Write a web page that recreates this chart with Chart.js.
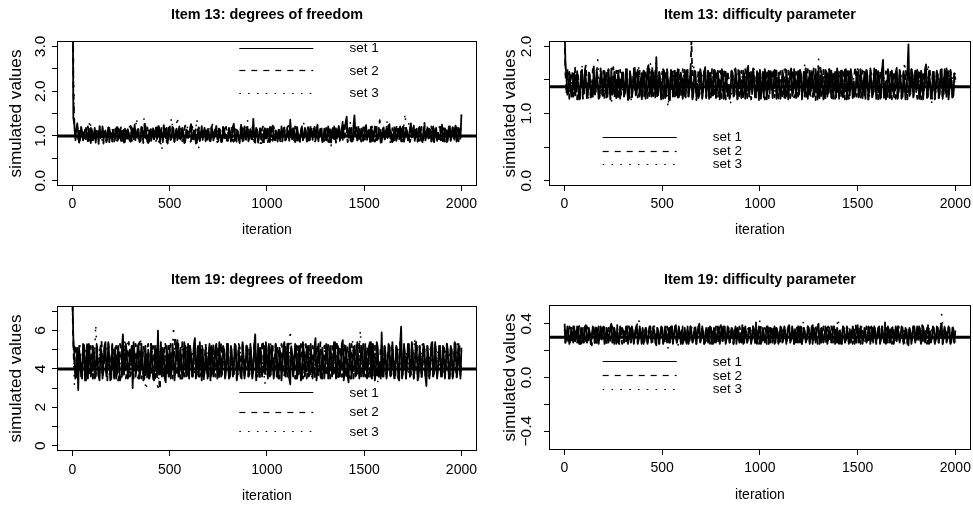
<!DOCTYPE html>
<html>
<head>
<meta charset="utf-8">
<script src="https://cdn.jsdelivr.net/npm/chart.js@4.4.1/dist/chart.umd.min.js"></script>
<style>
html,body{margin:0;padding:0;background:#fff;overflow:hidden;width:973px;height:506px;position:relative;}
canvas{position:absolute;display:block;}
</style>
</head>
<body>
<canvas id="c1"></canvas>
<canvas id="c2"></canvas>
<canvas id="c3"></canvas>
<canvas id="c4"></canvas>
<script>
// ---------------- DATA ----------------
const panelTitles = ['Item 13: degrees of freedom', 'Item 13: difficulty parameter',
                     'Item 19: degrees of freedom', 'Item 19: difficulty parameter'];
const seriesNames = ['set 1', 'set 2', 'set 3'];
const xAxisTitle = 'iteration';
const yAxisTitle = 'simulated values';

const xTicks = [0, 500, 1000, 1500, 2000];
const xTickLabels = ['0', '500', '1000', '1500', '2000'];

const item13DfTicks = [0, 0.5, 1, 1.5, 2, 2.5, 3];
const item13DfTickLabels = ['0.0', '', '1.0', '', '2.0', '', '3.0'];
const item13DiffTicks = [0, 0.5, 1, 1.5, 2];
const item13DiffTickLabels = ['0.0', '', '1.0', '', '2.0'];
const item19DfTicks = [0, 1, 2, 3, 4, 5, 6, 7];
const item19DfTickLabels = ['0', '', '2', '', '4', '', '6', ''];
const item19DiffTicks = [-0.4, -0.2, 0, 0.2, 0.4];
const item19DiffTickLabels = ['\u22120.4', '', '0.0', '', '0.4'];

const trueValues = [1.0, 1.4, 4.0, 0.3];

// iterations sampled every 5 (sets 1 and 2)
const iterationsBy5 = [
1,5,10,15,20,25,30,35,40,45,50,55,60,65,70,75,80,85,90,95,
100,105,110,115,120,125,130,135,140,145,150,155,160,165,170,175,180,185,190,195,
200,205,210,215,220,225,230,235,240,245,250,255,260,265,270,275,280,285,290,295,
300,305,310,315,320,325,330,335,340,345,350,355,360,365,370,375,380,385,390,395,
400,405,410,415,420,425,430,435,440,445,450,455,460,465,470,475,480,485,490,495,
500,505,510,515,520,525,530,535,540,545,550,555,560,565,570,575,580,585,590,595,
600,605,610,615,620,625,630,635,640,645,650,655,660,665,670,675,680,685,690,695,
700,705,710,715,720,725,730,735,740,745,750,755,760,765,770,775,780,785,790,795,
800,805,810,815,820,825,830,835,840,845,850,855,860,865,870,875,880,885,890,895,
900,905,910,915,920,925,930,935,940,945,950,955,960,965,970,975,980,985,990,995,
1000,1005,1010,1015,1020,1025,1030,1035,1040,1045,1050,1055,1060,1065,1070,1075,1080,1085,1090,1095,
1100,1105,1110,1115,1120,1125,1130,1135,1140,1145,1150,1155,1160,1165,1170,1175,1180,1185,1190,1195,
1200,1205,1210,1215,1220,1225,1230,1235,1240,1245,1250,1255,1260,1265,1270,1275,1280,1285,1290,1295,
1300,1305,1310,1315,1320,1325,1330,1335,1340,1345,1350,1355,1360,1365,1370,1375,1380,1385,1390,1395,
1400,1405,1410,1415,1420,1425,1430,1435,1440,1445,1450,1455,1460,1465,1470,1475,1480,1485,1490,1495,
1500,1505,1510,1515,1520,1525,1530,1535,1540,1545,1550,1555,1560,1565,1570,1575,1580,1585,1590,1595,
1600,1605,1610,1615,1620,1625,1630,1635,1640,1645,1650,1655,1660,1665,1670,1675,1680,1685,1690,1695,
1700,1705,1710,1715,1720,1725,1730,1735,1740,1745,1750,1755,1760,1765,1770,1775,1780,1785,1790,1795,
1800,1805,1810,1815,1820,1825,1830,1835,1840,1845,1850,1855,1860,1865,1870,1875,1880,1885,1890,1895,
1900,1905,1910,1915,1920,1925,1930,1935,1940,1945,1950,1955,1960,1965,1970,1975,1980,1985,1990,1995,
2000];

// iterations sampled every 10 (set 3)
const iterationsBy10 = [
1,10,20,30,40,50,60,70,80,90,100,110,120,130,140,150,160,170,180,190,
200,210,220,230,240,250,260,270,280,290,300,310,320,330,340,350,360,370,380,390,
400,410,420,430,440,450,460,470,480,490,500,510,520,530,540,550,560,570,580,590,
600,610,620,630,640,650,660,670,680,690,700,710,720,730,740,750,760,770,780,790,
800,810,820,830,840,850,860,870,880,890,900,910,920,930,940,950,960,970,980,990,
1000,1010,1020,1030,1040,1050,1060,1070,1080,1090,1100,1110,1120,1130,1140,1150,1160,1170,1180,1190,
1200,1210,1220,1230,1240,1250,1260,1270,1280,1290,1300,1310,1320,1330,1340,1350,1360,1370,1380,1390,
1400,1410,1420,1430,1440,1450,1460,1470,1480,1490,1500,1510,1520,1530,1540,1550,1560,1570,1580,1590,
1600,1610,1620,1630,1640,1650,1660,1670,1680,1690,1700,1710,1720,1730,1740,1750,1760,1770,1780,1790,
1800,1810,1820,1830,1840,1850,1860,1870,1880,1890,1900,1910,1920,1930,1940,1950,1960,1970,1980,1990,
2000];

const item13DfSet1 = [
4.80,1.40,1.25,0.95,1.12,1.28,1.05,0.86,0.92,1.20,1.10,0.90,0.98,1.14,1.18,0.96,0.88,1.16,1.02,0.84,
1.15,0.90,0.95,1.18,0.85,1.10,1.08,0.82,1.22,0.99,0.97,1.21,0.90,1.06,1.12,0.88,1.00,1.19,0.86,1.09,
1.05,0.87,1.14,0.98,0.93,1.17,1.20,0.91,0.99,1.13,0.89,1.12,1.08,0.85,1.16,1.01,0.94,1.15,1.03,0.89,
0.87,1.19,1.11,0.92,1.25,1.03,0.96,1.14,1.04,0.86,0.91,1.20,1.17,0.95,0.98,1.23,1.09,0.88,0.84,1.12,
1.13,0.89,1.00,1.17,0.92,1.10,1.19,0.93,1.06,1.21,0.88,1.13,1.02,0.86,1.24,1.04,0.95,1.18,0.83,1.08,
1.10,0.91,0.97,1.20,1.15,0.87,1.01,1.16,0.90,1.09,1.21,0.92,0.94,1.18,1.07,0.84,0.86,1.14,1.12,0.95,
0.99,1.17,1.26,0.94,0.93,1.12,1.05,0.83,0.85,1.07,1.14,0.89,1.02,1.22,0.91,1.10,1.18,0.88,0.96,1.15,
1.08,0.92,0.88,1.19,1.13,0.90,1.00,1.11,1.22,0.93,0.94,1.16,1.06,0.86,0.87,1.20,1.16,0.95,1.03,0.89,
0.92,1.18,1.11,0.87,0.98,1.21,1.27,0.90,0.95,1.14,1.09,0.93,0.84,1.12,1.15,0.88,1.01,1.19,0.93,1.10,
1.20,0.88,0.97,1.15,1.07,0.92,1.38,1.02,0.89,1.18,1.12,0.85,0.99,1.16,1.04,0.91,0.86,1.13,1.17,0.94,
0.95,1.16,1.10,0.86,1.02,1.18,1.23,0.93,0.91,1.12,1.06,0.87,1.14,0.95,0.88,1.21,1.00,1.09,1.19,0.90,
0.94,1.14,1.08,0.89,1.36,1.02,0.92,1.17,1.13,0.86,0.98,1.20,1.05,0.90,0.87,1.12,1.21,0.93,0.96,1.18,
1.11,0.88,1.02,1.19,0.90,1.13,1.16,0.91,1.07,1.20,0.93,1.10,1.25,0.92,0.99,1.15,1.04,0.86,0.89,1.16,
1.12,0.90,0.97,1.21,1.08,0.88,0.85,1.14,1.18,0.93,1.01,1.17,0.94,1.13,1.22,0.89,1.06,1.19,0.91,1.24,
1.15,1.30,1.43,0.99,0.96,1.18,1.09,0.87,0.88,1.22,1.46,1.06,1.03,0.90,1.20,0.95,0.92,1.16,1.10,0.89,
0.98,1.19,1.24,0.91,1.05,1.14,0.87,1.20,1.13,0.88,1.00,1.21,1.17,0.90,0.93,1.18,1.07,0.85,0.86,1.15,
1.19,0.92,1.02,1.17,0.95,1.22,1.26,0.94,1.08,0.86,0.90,1.19,1.14,0.89,0.97,1.16,1.04,1.21,0.88,1.12,
1.21,0.87,1.00,1.18,1.11,0.90,0.93,1.15,1.28,0.96,1.06,1.23,0.89,1.13,1.16,0.88,0.98,1.20,1.09,0.91,
0.86,1.14,1.22,0.90,1.03,1.19,0.94,1.16,1.13,0.87,1.01,1.21,0.88,1.12,1.18,0.89,1.07,0.93,0.92,1.20,
1.25,0.88,0.99,1.17,1.10,0.86,0.90,1.21,1.15,0.92,1.04,1.19,0.95,1.14,1.23,0.87,0.91,1.18,1.12,0.94,
1.48];
const item13DfSet2 = [
6.50,2.10,1.32,0.88,1.05,1.20,0.96,0.85,1.18,1.02,0.90,1.16,1.07,0.87,0.94,1.14,1.21,0.89,0.99,1.18,
0.87,1.15,1.13,0.90,1.02,1.19,0.92,1.12,1.16,0.88,1.04,1.20,0.83,1.09,1.10,0.86,0.97,1.16,1.24,0.92,
0.93,1.18,1.06,0.87,1.15,0.91,0.89,1.17,1.01,1.13,1.19,0.88,0.95,1.20,0.86,1.10,1.12,0.90,1.03,1.21,
1.22,0.89,0.91,1.16,1.08,0.86,0.98,1.20,1.14,0.92,0.88,1.17,1.05,0.84,1.26,0.96,0.94,1.19,1.09,0.87,
0.96,1.21,1.17,0.89,0.90,1.14,1.02,1.18,1.11,0.87,0.85,1.13,1.20,0.90,0.99,1.22,1.07,0.86,0.93,1.16,
1.28,0.91,0.95,1.19,1.04,0.86,0.87,1.15,1.16,0.89,1.00,1.20,1.12,0.88,0.92,1.14,1.23,0.90,0.97,1.18,
1.06,0.85,0.89,1.21,1.14,0.90,1.01,1.17,0.94,1.13,1.19,0.87,0.86,1.16,1.10,0.92,1.03,1.20,0.96,0.88,
1.15,0.87,0.91,1.18,1.25,0.93,0.98,1.22,1.07,0.86,0.88,1.15,1.13,0.89,1.02,1.19,0.95,1.14,1.20,0.91,
1.09,0.88,0.93,1.20,1.17,0.89,0.87,1.16,1.04,0.85,1.11,0.92,0.97,1.18,1.30,0.94,0.90,1.21,1.06,0.87,
1.01,1.16,1.18,0.89,0.94,1.19,1.08,0.87,0.85,1.13,1.14,0.90,1.03,1.17,0.92,1.15,1.21,0.88,0.99,1.20,
1.10,0.86,0.96,1.18,1.27,0.92,0.89,1.20,1.05,0.87,1.16,0.91,0.93,1.19,1.02,0.85,0.88,1.17,1.12,0.90,
1.00,1.19,1.22,0.88,0.95,1.16,1.09,0.86,0.91,1.21,1.17,0.89,1.04,0.85,0.87,1.18,1.13,0.90,0.98,1.15,
1.06,0.87,1.19,0.90,0.92,1.20,1.01,1.17,1.15,0.86,0.90,1.19,1.08,0.88,0.96,1.16,1.24,0.91,1.03,0.89,
0.94,1.18,1.11,0.87,0.86,1.15,1.20,0.89,0.99,1.21,1.07,0.85,0.93,1.19,1.14,0.88,1.02,1.17,1.31,0.92,
0.97,1.20,1.18,0.86,1.05,1.16,0.89,1.17,1.12,0.88,0.95,1.21,1.23,0.90,1.00,1.15,1.08,0.87,0.91,1.19,
1.16,0.88,0.98,1.19,1.04,0.86,0.87,1.18,1.21,0.89,1.10,0.87,0.94,1.20,1.06,0.90,1.35,1.05,0.92,1.17,
1.13,0.89,1.01,1.20,0.96,1.16,1.19,0.86,0.88,1.17,1.09,0.90,1.03,1.18,1.26,0.91,0.93,1.19,1.15,0.87,
1.00,1.21,0.90,1.18,1.12,0.88,1.05,0.86,0.97,1.19,1.22,0.90,0.89,1.16,1.07,0.87,1.17,0.89,0.94,1.20,
1.04,0.87,1.29,0.92,0.91,1.18,1.11,0.88,0.99,1.21,1.14,0.89,0.86,1.17,1.08,0.85,1.02,1.19,1.20,0.90,
0.95,1.18,1.10,0.87,1.03,1.20,0.92,1.16,1.24,0.89,0.98,1.19,1.13,0.86,0.88,1.21,1.06,0.88,1.01,1.17,
1.05];
const item13DfSet3 = [
3.90,1.28,1.10,0.93,1.15,1.02,0.88,1.20,0.97,1.35,
1.06,0.91,1.12,0.99,1.24,0.86,1.08,1.01,0.94,1.18,
1.03,0.90,1.16,1.07,0.95,1.22,0.89,1.11,1.00,0.92,
1.14,1.04,0.96,1.40,0.87,1.09,1.19,1.42,0.98,1.05,
0.93,1.13,1.01,0.88,1.25,0.97,0.68,1.10,1.06,0.94,
1.17,1.40,0.99,1.08,1.42,0.91,1.15,1.03,0.95,1.21,
1.02,0.89,1.12,0.96,1.38,0.72,1.07,1.14,1.00,0.92,
1.18,1.04,0.88,1.10,0.97,1.23,0.94,1.06,1.01,0.90,
1.13,1.05,0.95,1.19,0.87,1.09,1.02,0.93,1.16,0.99,
1.36,0.92,1.08,1.03,0.89,1.15,1.00,0.74,1.11,0.96,
1.04,1.20,0.91,1.07,1.13,0.98,1.02,0.88,1.17,1.05,
0.94,1.10,0.99,1.24,0.93,1.06,1.01,0.87,1.14,1.28,
0.96,1.09,1.03,0.90,1.18,1.00,0.92,1.12,1.05,0.95,
1.21,0.98,1.08,0.78,1.13,1.02,0.94,1.16,1.01,0.89,
1.10,1.04,0.96,1.33,0.92,1.07,1.15,0.99,1.03,0.88,
1.19,0.97,1.06,1.12,0.93,1.01,1.22,0.90,1.09,1.04,
0.95,1.17,1.36,0.98,1.08,0.91,1.14,1.02,0.96,1.11,
1.05,1.50,0.93,1.30,1.07,0.99,1.16,0.94,1.03,1.10,
0.89,1.20,1.01,0.95,1.13,1.06,0.92,1.18,1.00,0.97,
1.09,0.86,1.15,1.04,0.98,1.12,0.93,1.07,1.02,1.10,
1.04];

const item13DiffSet1 = [
2.30,1.75,1.55,1.28,1.32,1.62,1.48,1.25,1.26,1.58,1.60,1.27,1.38,1.63,1.44,1.21,1.22,1.59,1.65,1.30,
1.35,1.64,1.50,1.23,1.28,1.61,1.58,1.26,1.41,1.25,1.70,1.29,1.33,1.66,1.46,1.22,1.24,1.60,1.62,1.27,
1.39,1.63,1.52,1.24,1.29,1.65,1.45,1.21,1.67,1.28,1.34,1.62,1.56,1.23,1.27,1.64,1.49,1.22,1.40,1.61,
1.61,1.26,1.31,1.66,1.47,1.20,1.23,1.62,1.54,1.24,1.37,1.63,1.68,1.27,1.30,1.65,1.51,1.25,1.43,1.60,
1.25,1.64,1.59,1.22,1.36,1.67,1.72,1.26,1.42,1.63,1.28,1.61,1.55,1.24,1.84,1.29,1.33,1.62,1.48,1.21,
1.38,1.66,1.63,1.23,1.26,1.62,1.50,1.20,1.35,1.65,1.57,1.25,1.29,1.64,1.46,1.27,1.66,1.24,1.32,1.61,
1.53,1.22,1.40,1.65,1.24,1.63,1.60,1.25,1.37,1.67,1.49,1.21,1.30,1.64,1.62,1.26,1.44,1.23,1.27,1.66,
1.56,1.24,1.34,1.62,1.69,1.25,1.41,1.63,1.22,1.61,1.52,1.27,1.36,1.65,1.64,1.23,1.31,1.64,1.47,1.21,
1.39,1.66,1.58,1.22,1.25,1.62,1.50,1.26,1.43,1.23,1.33,1.64,1.61,1.25,1.28,1.65,1.54,1.21,1.37,1.63,
1.46,1.23,1.26,1.64,1.59,1.22,1.35,1.66,1.71,1.25,1.40,1.62,1.29,1.67,1.53,1.24,1.32,1.63,1.48,1.20,
1.65,1.25,1.36,1.62,1.24,1.66,1.57,1.21,1.42,1.64,1.30,1.63,1.51,1.23,1.38,1.65,1.63,1.22,1.27,1.61,
1.45,1.22,1.34,1.64,1.56,1.24,1.23,1.65,1.49,1.21,1.39,1.62,1.67,1.26,1.31,1.66,1.52,1.23,1.44,1.63,
1.28,1.65,1.60,1.24,1.37,1.62,1.25,1.67,1.54,1.22,1.41,1.64,1.33,1.61,1.58,1.25,1.29,1.66,1.47,1.21,
1.70,1.23,1.35,1.63,1.50,1.21,1.26,1.65,1.62,1.25,1.40,1.66,1.32,1.64,1.55,1.22,1.43,1.62,1.24,1.67,
1.59,1.22,1.36,1.64,1.48,1.24,1.30,1.65,1.66,1.21,1.38,1.63,1.27,1.66,1.53,1.23,1.45,1.25,1.34,1.62,
1.61,1.24,1.29,1.66,1.51,1.23,1.42,1.62,1.22,1.65,1.57,1.21,1.37,1.64,1.46,1.25,1.31,1.67,1.64,1.22,
1.39,1.63,1.52,1.22,1.26,1.65,1.80,1.24,1.44,1.21,1.33,1.66,1.58,1.23,1.28,1.64,1.49,1.25,1.41,1.62,
1.68,1.22,1.35,1.65,1.54,1.23,1.25,1.63,1.47,1.21,1.37,1.62,2.03,1.26,1.30,1.66,1.60,1.24,1.43,1.64,
1.32,1.65,1.56,1.22,1.27,1.64,1.50,1.21,1.40,1.66,1.73,1.25,1.34,1.63,1.48,1.24,1.23,1.62,1.62,1.23,
1.38,1.64,1.53,1.23,1.29,1.65,1.66,1.22,1.42,1.63,1.31,1.67,1.57,1.21,1.36,1.62,1.45,1.24,1.26,1.60,
1.58];
const item13DiffSet2 = [
2.15,1.62,1.28,1.66,1.50,1.22,1.36,1.64,1.62,1.25,1.30,1.68,1.45,1.21,1.57,1.28,1.24,1.63,1.52,1.20,
1.41,1.65,1.73,1.24,1.33,1.61,1.49,1.19,1.27,1.66,1.60,1.23,1.38,1.62,1.55,1.26,1.31,1.67,1.46,1.22,
1.64,1.21,1.35,1.63,1.25,1.66,1.58,1.24,1.43,1.62,1.69,1.22,1.32,1.64,1.51,1.20,1.40,1.65,1.28,1.61,
1.61,1.25,1.37,1.65,1.47,1.21,1.23,1.63,1.56,1.22,1.44,1.67,1.34,1.62,1.66,1.24,1.30,1.64,1.53,1.19,
1.42,1.63,1.26,1.65,1.59,1.23,1.36,1.66,1.48,1.22,1.71,1.26,1.33,1.64,1.55,1.21,1.29,1.62,1.45,1.24,
1.62,1.22,1.39,1.64,1.27,1.66,1.54,1.21,1.41,1.63,1.32,1.65,1.58,1.23,1.46,1.61,1.24,1.67,1.60,1.25,
1.37,1.66,1.50,1.21,1.35,1.64,1.65,1.23,1.43,1.62,2.10,1.24,1.31,1.65,1.56,1.20,1.40,1.63,1.28,1.67,
1.52,1.22,1.44,1.65,1.67,1.23,1.34,1.64,1.49,1.21,1.26,1.66,1.59,1.24,1.38,1.62,1.46,1.25,1.30,1.63,
1.63,1.23,1.36,1.66,1.53,1.21,1.25,1.64,1.48,1.22,1.41,1.65,1.57,1.24,1.32,1.67,1.45,1.20,1.69,1.26,
1.35,1.64,1.51,1.22,1.27,1.66,1.60,1.23,1.39,1.65,1.47,1.21,1.33,1.63,1.55,1.25,1.42,1.62,1.29,1.67,
1.64,1.22,1.37,1.65,1.50,1.21,1.24,1.66,1.58,1.23,1.43,1.62,1.34,1.67,1.61,1.24,1.40,1.64,1.31,1.20,
1.54,1.63,1.45,1.22,1.28,1.65,1.66,1.21,1.38,1.64,1.49,1.23,1.35,1.66,1.57,1.24,1.26,1.62,1.52,1.25,
1.42,1.65,1.62,1.21,1.33,1.64,1.47,1.22,1.30,1.66,1.59,1.23,1.39,1.63,1.25,1.67,1.56,1.20,1.44,1.62,
1.36,1.24,1.68,1.22,1.32,1.65,1.50,1.21,1.41,1.63,1.27,1.66,1.60,1.23,1.37,1.64,1.54,1.22,1.46,1.65,
1.29,1.64,1.63,1.23,1.40,1.62,1.48,1.21,1.34,1.66,1.57,1.22,1.26,1.65,1.52,1.24,1.43,1.63,1.70,1.25,
1.35,1.66,1.49,1.22,1.31,1.64,1.61,1.23,1.38,1.65,1.45,1.21,1.28,1.67,1.58,1.24,1.42,1.62,1.33,1.65,
1.55,1.21,1.47,1.64,1.24,1.66,1.65,1.22,1.39,1.63,1.51,1.23,1.36,1.65,1.59,1.21,1.30,1.64,1.46,1.22,
1.62,1.23,1.34,1.65,1.53,1.22,1.41,1.64,1.27,1.66,1.57,1.21,1.44,1.63,1.32,1.65,1.67,1.24,1.37,1.62,
1.49,1.22,1.29,1.66,1.60,1.21,1.43,1.64,1.35,1.65,1.54,1.23,1.25,1.67,1.63,1.22,1.40,1.64,1.48,1.21,
1.33,1.65,1.58,1.23,1.38,1.64,1.51,1.22,1.28,1.66,1.61,1.21,1.45,1.63,1.36,1.65,1.55,1.24,1.31,1.62,
1.50];
const item13DiffSet3 = [
1.95,1.40,1.62,1.33,1.51,1.27,1.58,1.44,1.36,1.70,
1.30,1.47,1.18,1.55,1.41,1.64,1.35,1.80,1.29,1.52,
1.43,1.26,1.59,1.37,1.14,1.49,1.32,1.66,1.40,1.56,
1.28,1.45,1.61,1.34,1.16,1.53,1.42,1.31,1.68,1.38,
1.50,1.25,1.57,1.44,1.74,1.35,1.48,1.78,1.30,1.54,
1.41,1.20,1.60,1.09,1.46,1.36,1.63,1.29,1.52,1.43,
1.33,1.58,1.26,1.47,1.39,1.65,1.76,1.32,1.55,1.44,
1.27,1.61,1.37,1.49,1.34,1.57,1.42,1.30,1.64,1.40,
1.53,1.28,1.46,1.36,1.59,1.15,1.43,1.67,1.33,1.50,
1.38,1.56,1.26,1.62,1.41,1.48,1.31,1.70,1.35,1.45,
1.58,1.29,1.52,1.39,1.44,1.66,1.34,1.55,1.27,1.47,
1.60,1.37,1.42,1.30,1.57,1.45,1.33,1.63,1.38,1.51,
1.28,1.59,1.43,1.75,1.36,1.49,1.25,1.54,1.40,1.32,
1.82,1.46,1.35,1.61,1.29,1.52,1.42,1.17,1.56,1.37,
1.48,1.31,1.65,1.39,1.44,1.27,1.58,1.34,1.53,1.41,
1.68,1.36,1.47,1.30,1.55,1.43,1.26,1.62,1.38,1.50,
1.33,1.57,1.45,1.71,1.35,1.28,1.60,1.40,1.52,1.18,
1.46,1.37,1.64,1.31,1.77,1.42,1.29,1.55,1.39,1.48,
1.34,1.66,1.43,1.27,1.58,1.36,1.74,1.41,1.13,1.53,
1.32,1.61,1.45,1.38,1.56,1.30,1.49,1.40,1.62,1.44,
1.50];

const item19DfSet1 = [
7.60,5.60,4.80,3.50,3.60,5.10,2.90,5.00,4.50,3.60,3.80,5.30,5.20,3.40,4.10,5.20,3.50,5.30,4.70,3.60,
4.00,5.20,5.00,3.50,3.70,5.30,4.40,3.60,3.40,5.10,4.90,3.50,4.20,5.20,5.40,3.60,3.90,5.40,4.60,3.40,
3.50,5.30,4.30,3.60,5.10,3.50,3.80,5.20,4.50,3.40,3.60,5.10,5.80,3.70,4.10,5.30,4.80,3.50,3.70,5.00,
4.40,5.20,3.00,5.40,4.70,3.60,4.00,5.10,5.30,3.50,3.90,5.30,4.60,3.40,3.50,5.20,4.20,3.60,5.00,3.50,
3.80,5.30,4.50,3.50,3.40,5.20,4.90,3.60,6.00,3.70,4.10,5.40,3.60,5.10,4.70,3.50,3.30,5.20,4.30,3.60,
5.20,3.50,3.90,5.30,4.60,3.40,4.00,5.20,5.50,3.60,3.70,5.10,4.40,3.50,3.80,5.40,5.10,3.60,4.20,5.30,
3.50,5.20,4.80,3.60,3.90,5.30,5.60,3.50,4.10,5.20,3.60,5.40,4.50,3.40,5.00,3.60,3.80,5.10,4.30,3.50,
4.70,5.30,3.40,5.20,4.90,3.60,4.00,5.10,5.30,3.50,3.70,5.40,4.50,3.60,4.20,5.20,5.00,3.50,3.90,5.30,
4.40,3.50,3.60,5.20,4.80,3.60,4.10,5.30,5.20,3.40,3.80,5.10,4.30,3.60,3.50,5.40,4.70,3.50,4.00,5.20,
5.10,3.60,3.70,5.30,4.60,3.50,3.90,5.20,5.80,3.40,4.20,5.30,3.60,5.10,4.90,3.60,4.10,5.20,3.80,5.40,
4.50,3.50,5.30,3.60,3.70,5.20,4.40,3.50,4.00,5.30,5.00,3.60,3.50,5.10,4.70,3.40,4.20,5.20,5.40,3.60,
3.90,5.30,4.60,3.50,3.20,5.10,4.80,3.60,4.10,5.30,5.20,3.50,3.80,5.20,4.30,3.40,3.60,5.40,4.90,3.60,
4.00,5.20,5.10,3.60,3.70,5.30,4.50,3.50,4.20,5.20,5.60,3.40,3.90,5.30,4.70,3.60,3.50,5.10,4.40,3.50,
4.10,5.30,5.00,3.50,3.80,5.20,4.80,3.60,4.00,5.40,5.30,3.50,3.60,5.20,4.50,3.60,4.20,5.30,5.50,3.40,
3.90,5.20,4.60,3.60,3.30,5.30,4.90,3.50,4.10,5.10,5.20,3.60,3.70,5.40,4.40,3.50,4.00,5.20,5.00,3.60,
3.80,5.30,4.70,3.50,4.20,5.20,5.40,3.60,3.50,5.30,4.50,3.40,3.90,5.40,5.10,3.60,4.30,3.50,5.90,3.60,
3.60,5.20,4.80,3.50,4.00,5.30,5.20,3.60,3.70,5.40,4.40,3.50,4.10,5.20,5.00,3.60,3.40,5.30,6.20,3.50,
3.90,5.30,4.60,3.50,4.20,5.20,5.30,3.60,3.80,5.40,4.90,3.50,4.00,5.30,5.10,3.40,3.60,5.20,4.50,3.60,
4.30,5.30,5.00,3.60,3.10,5.20,4.70,3.50,4.10,5.30,5.40,3.60,3.80,5.40,4.40,3.50,4.00,5.10,5.20,3.60,
3.70,5.20,4.60,3.50,4.20,5.30,5.00,3.60,3.50,5.20,4.80,3.50,3.90,5.40,5.30,3.60,4.10,5.30,4.50,3.50,
5.10];
const item19DfSet2 = [
7.30,5.00,4.20,5.30,5.00,3.50,3.80,5.20,4.60,3.60,3.50,5.10,5.30,3.50,4.00,5.40,4.80,3.60,3.70,5.20,
4.40,3.50,5.10,3.60,3.60,5.30,4.70,3.50,4.10,5.20,5.50,3.60,3.90,5.10,4.30,3.50,3.40,5.30,4.90,3.60,
4.20,5.30,5.20,3.50,3.80,5.20,4.50,3.40,3.60,5.30,5.00,3.60,4.10,5.20,4.70,3.50,3.90,5.30,5.40,3.60,
3.70,5.20,4.40,3.50,4.00,5.30,5.10,3.60,3.50,5.40,4.60,3.50,4.20,5.20,4.90,3.60,3.80,5.10,5.30,3.50,
4.10,5.30,3.60,5.20,4.80,3.50,4.00,5.30,5.00,3.60,2.90,5.10,4.50,3.50,3.90,5.40,5.20,3.60,4.30,5.20,
3.70,5.30,4.70,3.50,4.10,5.20,5.60,3.60,3.80,5.30,4.40,3.50,3.50,5.40,4.90,3.60,4.20,5.20,5.10,3.50,
3.90,5.20,4.60,3.60,4.00,5.30,5.40,3.50,3.70,5.20,4.50,3.60,3.80,5.30,5.00,3.40,4.20,5.30,4.70,3.50,
3.60,5.20,5.30,3.50,4.10,5.30,4.40,3.60,3.90,5.20,5.00,3.50,4.30,5.40,3.70,5.20,4.80,3.60,4.00,5.30,
5.20,3.50,3.80,5.30,4.60,3.60,3.50,5.20,4.90,3.50,4.10,5.30,5.10,3.60,3.90,5.40,4.50,3.50,4.20,5.20,
5.30,3.60,3.70,5.20,4.70,3.50,4.00,5.30,5.00,3.60,3.60,5.20,4.40,3.50,4.20,5.30,5.50,3.60,3.80,5.40,
4.90,3.50,4.10,5.30,3.90,5.20,5.20,3.60,4.30,5.30,3.60,5.20,4.80,3.50,4.00,5.30,5.00,3.60,3.70,5.20,
4.50,3.60,5.40,3.50,3.90,5.30,4.20,3.60,4.70,3.50,3.50,5.20,5.10,3.60,4.10,5.30,4.60,3.50,3.80,5.20,
5.30,3.50,4.00,5.30,4.40,3.60,3.70,5.20,4.90,3.50,4.20,5.30,5.20,3.60,3.90,5.40,4.50,3.50,3.60,5.20,
4.80,3.60,4.10,5.30,5.00,3.50,3.80,5.20,4.60,3.60,4.30,5.30,5.50,3.50,3.70,5.20,4.40,3.60,4.00,5.30,
5.10,3.50,3.90,5.20,4.70,3.60,3.50,5.30,4.90,3.50,4.20,5.20,5.30,3.60,3.80,5.40,4.50,3.50,4.10,5.30,
5.00,3.60,3.60,5.20,4.80,3.50,4.00,5.30,5.40,3.60,3.90,5.20,4.30,3.50,4.60,3.60,3.70,5.30,5.20,3.50,
4.10,5.30,4.50,3.60,3.80,5.20,5.00,3.50,4.20,5.30,4.70,3.60,3.40,5.20,4.90,3.50,4.00,5.40,5.30,3.60,
3.90,5.20,4.60,3.50,4.10,5.30,5.10,3.60,3.70,5.20,4.40,3.50,4.20,5.30,5.50,3.60,3.80,5.20,4.80,3.50,
4.00,5.30,5.00,3.50,3.60,5.20,4.50,3.60,4.30,5.30,5.20,3.50,3.90,5.40,4.70,3.60,4.10,5.20,4.90,3.50,
3.80,5.20,5.30,3.60,4.00,5.30,4.60,3.50,3.70,5.20,5.00,3.60,4.20,5.30,4.40,3.50,3.90,5.30,5.20,3.60,
4.30];
const item19DfSet3 = [
6.90,3.20,4.60,4.00,5.20,3.70,4.40,5.00,3.50,4.80,
4.10,3.40,6.30,4.20,5.10,3.80,4.50,4.00,5.30,3.60,
4.70,3.90,5.00,4.30,3.70,4.90,4.10,5.40,3.80,4.40,
3.60,5.20,4.00,4.70,3.90,5.60,4.20,3.50,2.90,4.60,
4.10,5.10,3.80,4.50,2.85,4.90,4.00,5.00,3.70,4.30,
4.80,3.90,6.20,4.20,4.60,3.60,5.30,4.00,5.40,3.80,
4.50,4.10,5.00,3.70,4.70,4.30,5.20,3.90,4.40,4.00,
5.10,3.60,4.80,4.20,4.50,3.80,5.30,4.10,4.60,3.90,
5.00,3.70,4.40,4.20,4.90,3.50,5.20,4.00,4.70,3.80,
4.50,5.10,3.90,4.30,4.80,3.60,5.00,4.10,4.40,3.20,
4.60,4.00,5.30,3.80,4.70,4.20,5.00,3.90,4.50,4.10,
5.20,3.70,6.00,4.30,4.60,3.50,4.90,4.00,5.40,3.80,
4.40,4.20,5.10,3.60,4.80,4.10,5.00,3.90,4.50,4.00,
5.30,3.70,4.60,4.20,4.90,3.80,5.20,4.10,4.40,3.60,
5.00,4.30,4.70,3.90,5.50,4.00,4.80,3.70,6.00,4.20,
4.50,3.80,5.10,4.10,4.60,3.90,5.20,3.30,4.40,4.00,
5.00,3.60,4.90,4.20,5.30,3.80,4.70,4.10,5.10,3.90,
4.50,4.00,5.00,3.70,4.80,4.30,5.60,3.80,4.60,4.10,
5.50,3.90,4.40,3.60,5.20,4.20,4.70,3.80,5.00,4.00,
4.50,3.70,5.10,4.10,4.80,3.90,4.60,4.20,5.30,3.80,
4.40];

const item19DiffSet1 = [
0.40,0.26,0.30,0.38,0.35,0.25,0.27,0.37,0.33,0.26,0.38,0.27,0.29,0.38,0.34,0.25,0.25,0.37,0.36,0.26,
0.31,0.38,0.39,0.26,0.28,0.37,0.33,0.25,0.30,0.38,0.37,0.26,0.26,0.37,0.35,0.25,0.32,0.38,0.29,0.37,
0.38,0.25,0.27,0.37,0.34,0.26,0.31,0.38,0.40,0.26,0.28,0.37,0.33,0.25,0.36,0.26,0.25,0.38,0.32,0.37,
0.35,0.26,0.29,0.38,0.37,0.25,0.30,0.37,0.26,0.38,0.34,0.25,0.31,0.37,0.39,0.26,0.28,0.38,0.33,0.25,
0.36,0.26,0.27,0.37,0.32,0.25,0.30,0.38,0.38,0.26,0.29,0.37,0.35,0.26,0.24,0.37,0.33,0.25,0.31,0.38,
0.37,0.25,0.28,0.38,0.34,0.26,0.30,0.37,0.26,0.38,0.36,0.25,0.32,0.37,0.39,0.26,0.29,0.38,0.33,0.26,
0.35,0.25,0.27,0.37,0.31,0.26,0.38,0.25,0.30,0.38,0.34,0.26,0.28,0.37,0.36,0.25,0.32,0.38,0.40,0.27,
0.29,0.38,0.33,0.25,0.26,0.37,0.35,0.26,0.31,0.38,0.37,0.25,0.28,0.37,0.34,0.26,0.30,0.38,0.36,0.25,
0.32,0.38,0.27,0.37,0.38,0.25,0.30,0.38,0.34,0.26,0.29,0.37,0.36,0.25,0.31,0.38,0.25,0.37,0.35,0.26,
0.33,0.26,0.39,0.25,0.28,0.38,0.32,0.26,0.30,0.37,0.37,0.25,0.29,0.38,0.34,0.26,0.41,0.25,0.31,0.38,
0.35,0.25,0.27,0.37,0.33,0.26,0.30,0.38,0.38,0.25,0.28,0.37,0.36,0.26,0.32,0.38,0.26,0.37,0.34,0.25,
0.31,0.38,0.37,0.26,0.29,0.37,0.35,0.25,0.30,0.38,0.39,0.26,0.28,0.37,0.33,0.25,0.36,0.26,0.27,0.38,
0.32,0.26,0.38,0.25,0.30,0.37,0.34,0.26,0.29,0.38,0.37,0.25,0.31,0.38,0.25,0.37,0.35,0.26,0.33,0.38,
0.40,0.25,0.28,0.37,0.32,0.26,0.30,0.38,0.36,0.25,0.29,0.37,0.34,0.26,0.31,0.38,0.38,0.25,0.27,0.37,
0.33,0.26,0.35,0.25,0.30,0.38,0.37,0.26,0.28,0.37,0.32,0.25,0.36,0.26,0.29,0.38,0.34,0.25,0.31,0.37,
0.39,0.26,0.27,0.38,0.33,0.25,0.30,0.37,0.35,0.26,0.28,0.38,0.37,0.25,0.32,0.37,0.26,0.38,0.34,0.26,
0.31,0.37,0.38,0.25,0.29,0.38,0.33,0.26,0.41,0.25,0.30,0.38,0.35,0.26,0.28,0.37,0.36,0.25,0.32,0.38,
0.27,0.37,0.34,0.26,0.31,0.38,0.37,0.25,0.29,0.37,0.33,0.26,0.24,0.37,0.35,0.25,0.30,0.38,0.38,0.26,
0.32,0.38,0.28,0.37,0.36,0.25,0.31,0.38,0.34,0.26,0.29,0.37,0.39,0.25,0.33,0.26,0.30,0.38,0.37,0.25,
0.28,0.37,0.35,0.26,0.32,0.38,0.40,0.25,0.29,0.37,0.34,0.26,0.31,0.38,0.36,0.25,0.27,0.37,0.33,0.26,
0.35];
const item19DiffSet2 = [
0.36,0.26,0.33,0.25,0.28,0.38,0.37,0.25,0.31,0.38,0.26,0.37,0.35,0.26,0.30,0.38,0.39,0.25,0.29,0.37,
0.34,0.25,0.27,0.38,0.36,0.26,0.32,0.25,0.24,0.38,0.33,0.26,0.38,0.25,0.30,0.38,0.35,0.26,0.28,0.37,
0.31,0.38,0.37,0.25,0.29,0.37,0.34,0.26,0.26,0.38,0.36,0.25,0.32,0.37,0.39,0.26,0.30,0.38,0.33,0.25,
0.28,0.37,0.35,0.26,0.31,0.38,0.38,0.25,0.27,0.37,0.34,0.26,0.30,0.38,0.36,0.25,0.29,0.37,0.32,0.26,
0.37,0.25,0.28,0.38,0.35,0.26,0.31,0.37,0.33,0.25,0.26,0.38,0.38,0.26,0.30,0.37,0.34,0.25,0.29,0.38,
0.36,0.26,0.32,0.25,0.27,0.38,0.35,0.26,0.31,0.37,0.39,0.25,0.29,0.38,0.33,0.26,0.30,0.37,0.37,0.25,
0.28,0.38,0.34,0.26,0.32,0.25,0.36,0.37,0.26,0.38,0.35,0.26,0.30,0.37,0.38,0.25,0.31,0.38,0.33,0.26,
0.29,0.38,0.37,0.25,0.32,0.26,0.27,0.38,0.34,0.25,0.30,0.37,0.36,0.26,0.28,0.38,0.35,0.25,0.31,0.37,
0.39,0.26,0.29,0.38,0.33,0.25,0.30,0.37,0.37,0.26,0.27,0.38,0.34,0.25,0.32,0.37,0.36,0.26,0.28,0.38,
0.35,0.25,0.31,0.37,0.26,0.38,0.38,0.26,0.30,0.37,0.33,0.25,0.29,0.38,0.36,0.26,0.32,0.37,0.34,0.25,
0.28,0.38,0.37,0.26,0.31,0.37,0.35,0.25,0.27,0.38,0.33,0.26,0.30,0.37,0.39,0.25,0.29,0.38,0.34,0.26,
0.32,0.25,0.36,0.26,0.28,0.38,0.35,0.25,0.31,0.37,0.38,0.26,0.30,0.38,0.33,0.25,0.26,0.38,0.37,0.26,
0.29,0.38,0.34,0.25,0.32,0.37,0.36,0.26,0.28,0.38,0.35,0.25,0.30,0.37,0.39,0.26,0.31,0.38,0.33,0.25,
0.27,0.37,0.36,0.26,0.32,0.38,0.34,0.25,0.29,0.37,0.38,0.26,0.30,0.38,0.35,0.25,0.28,0.37,0.33,0.26,
0.31,0.25,0.37,0.26,0.29,0.38,0.34,0.25,0.32,0.38,0.36,0.26,0.27,0.37,0.35,0.25,0.30,0.38,0.40,0.26,
0.29,0.38,0.33,0.25,0.31,0.37,0.36,0.26,0.28,0.38,0.34,0.25,0.32,0.37,0.38,0.26,0.30,0.38,0.35,0.25,
0.27,0.37,0.33,0.26,0.31,0.38,0.37,0.25,0.29,0.37,0.36,0.26,0.32,0.38,0.34,0.25,0.28,0.37,0.35,0.26,
0.30,0.38,0.38,0.25,0.31,0.37,0.33,0.26,0.26,0.38,0.36,0.25,0.29,0.37,0.34,0.26,0.32,0.38,0.37,0.25,
0.30,0.26,0.35,0.38,0.28,0.25,0.39,0.26,0.31,0.37,0.33,0.25,0.29,0.38,0.36,0.26,0.32,0.37,0.34,0.25,
0.28,0.38,0.37,0.26,0.30,0.37,0.35,0.25,0.31,0.38,0.38,0.26,0.29,0.37,0.33,0.25,0.32,0.38,0.36,0.26,
0.30];
const item19DiffSet3 = [
0.34,0.29,0.36,0.31,0.27,0.35,0.32,0.38,0.28,0.33,
0.30,0.37,0.26,0.34,0.31,0.36,0.29,0.33,0.30,0.38,
0.27,0.35,0.32,0.36,0.29,0.34,0.31,0.37,0.28,0.33,
0.30,0.36,0.32,0.35,0.27,0.34,0.31,0.38,0.44,0.30,
0.33,0.36,0.29,0.35,0.31,0.37,0.28,0.34,0.32,0.36,
0.30,0.33,0.27,0.22,0.35,0.31,0.37,0.29,0.23,0.34,
0.32,0.36,0.28,0.35,0.30,0.38,0.31,0.33,0.29,0.36,
0.32,0.34,0.27,0.37,0.30,0.35,0.31,0.33,0.28,0.36,
0.32,0.39,0.29,0.34,0.30,0.37,0.31,0.35,0.28,0.33,
0.36,0.30,0.34,0.29,0.38,0.31,0.35,0.32,0.33,0.27,
0.43,0.30,0.36,0.29,0.34,0.31,0.37,0.28,0.35,0.32,
0.33,0.30,0.38,0.29,0.36,0.31,0.34,0.27,0.35,0.32,
0.37,0.30,0.42,0.33,0.29,0.36,0.31,0.34,0.28,0.35,
0.32,0.38,0.30,0.33,0.29,0.36,0.31,0.35,0.27,0.34,
0.44,0.30,0.37,0.32,0.33,0.29,0.36,0.31,0.35,0.28,
0.34,0.30,0.38,0.32,0.33,0.29,0.36,0.31,0.35,0.27,
0.34,0.32,0.37,0.30,0.36,0.29,0.33,0.31,0.38,0.28,
0.35,0.32,0.34,0.30,0.37,0.29,0.36,0.31,0.33,0.28,
0.35,0.32,0.39,0.30,0.34,0.29,0.37,0.31,0.36,0.33,
0.30,0.38,0.34,0.47,0.32,0.35,0.29,0.37,0.31,0.34,
0.33];

// ---------------- STYLE / LAYOUT ----------------
const FAM = "'Liberation Sans', Arial, Helvetica, sans-serif";
const TICK_SIZE = 14, YTICK_SIZE = 15.5, AXIS_SIZE = 14, YAXIS_SIZE = 17.2, TITLE_SIZE = 14.4, LEGEND_SIZE = 13.5;
const TICK_LEN = 5;
const LH = 1.2;
const seriesWidth = [1.8, 1.8, 1.5];
const seriesDash = [[], [6, 6], [1.6, 7.2]];

const panels = [
  { id: 'c1', x: 0, y: 0, w: 486, h: 253, box: {l: 57, t: 41, r: 477, b: 186},
    titleCy: 15.3, yTickCx: 40.8, yTitleCx: 16.7, xTickCy: 204.2, xTitleCy: 230,
    ymin: -0.12, ymax: 3.12, yTicks: item13DfTicks, yLabels: item13DfTickLabels,
    sets: [[iterationsBy5, item13DfSet1], [iterationsBy5, item13DfSet2], [iterationsBy10, item13DfSet3]],
    truth: trueValues[0], title: panelTitles[0],
    legend: {x1: 239.3, x2: 313.3, tx: 349.5, ys: [47.7, 70.3, 92.7]} },
  { id: 'c2', x: 486, y: 0, w: 487, h: 253, box: {l: 63, t: 41, r: 485, b: 186},
    titleCy: 15.3, yTickCx: 41.2, yTitleCx: 24, xTickCy: 204.2, xTitleCy: 230,
    ymin: -0.08, ymax: 2.08, yTicks: item13DiffTicks, yLabels: item13DiffTickLabels,
    sets: [[iterationsBy5, item13DiffSet1], [iterationsBy5, item13DiffSet2], [iterationsBy10, item13DiffSet3]],
    truth: trueValues[1], title: panelTitles[1],
    legend: {x1: 116.7, x2: 190.7, tx: 226.8, ys: [136.7, 150.7, 164]} },
  { id: 'c3', x: 0, y: 253, w: 486, h: 253, box: {l: 57, t: 53, r: 477, b: 198},
    titleCy: 26.7, yTickCx: 40.8, yTitleCx: 16.7, xTickCy: 216.9, xTitleCy: 243.3,
    ymin: -0.28, ymax: 7.28, yTicks: item19DfTicks, yLabels: item19DfTickLabels,
    sets: [[iterationsBy5, item19DfSet1], [iterationsBy5, item19DfSet2], [iterationsBy10, item19DfSet3]],
    truth: trueValues[2], title: panelTitles[2],
    legend: {x1: 239.3, x2: 313.3, tx: 349.5, ys: [139.3, 159, 178.3]} },
  { id: 'c4', x: 486, y: 253, w: 487, h: 253, box: {l: 63, t: 52, r: 485, b: 197},
    titleCy: 26.7, yTickCx: 41, yTitleCx: 24, xTickCy: 215.2, xTitleCy: 241.7,
    ymin: -0.54, ymax: 0.54, yTicks: item19DiffTicks, yLabels: item19DiffTickLabels,
    sets: [[iterationsBy5, item19DiffSet1], [iterationsBy5, item19DiffSet2], [iterationsBy10, item19DiffSet3]],
    truth: trueValues[3], title: panelTitles[3],
    legend: {x1: 116.7, x2: 190.7, tx: 226.8, ys: [108.3, 122.3, 135.7]} }
];

const measureCtx = document.createElement('canvas').getContext('2d');

function makePanel(p) {
  const cv = document.getElementById(p.id);
  cv.width = p.w; cv.height = p.h;
  cv.style.left = p.x + 'px'; cv.style.top = p.y + 'px';
  cv.style.width = p.w + 'px'; cv.style.height = p.h + 'px';

  const titleLH = TITLE_SIZE * LH;
  const titlePadTop = p.titleCy - titleLH / 2;
  const titlePadBottom = p.box.t - titlePadTop - titleLH;
  const tickLH = TICK_SIZE * LH;
  const xTickPad = p.xTickCy - p.box.b - TICK_LEN - tickLH / 2;
  const axLH = AXIS_SIZE * LH;
  const yAxLH = YAXIS_SIZE * LH;
  const xTitlePadBottom = p.h - p.xTitleCy - axLH / 2;
  const yTitlePadTop = p.yTitleCx - yAxLH / 2;
  measureCtx.font = 'normal ' + YTICK_SIZE + 'px ' + FAM;
  const widest = Math.max.apply(null, p.yLabels.map(s => measureCtx.measureText(s).width));
  const yTickPad = p.box.l - TICK_LEN - widest / 2 - p.yTickCx;

  const datasets = p.sets.map((pair, k) => ({
    label: seriesNames[k],
    data: pair[0].map((it, i) => ({x: it, y: pair[1][i]})),
    borderColor: '#000', borderWidth: seriesWidth[k], borderDash: seriesDash[k],
    borderJoinStyle: 'round', pointRadius: 0, tension: 0, fill: false, order: k + 1
  }));
  datasets.push({
    label: 'true value',
    data: [{x: -79, y: p.truth}, {x: 2080, y: p.truth}],
    borderColor: '#000', borderWidth: 3, pointRadius: 0, tension: 0, fill: false, order: -1
  });

  const framePlugin = {
    id: 'rframe',
    afterDraw(chart) {
      const ctx = chart.ctx, a = chart.chartArea;
      ctx.save();
      ctx.strokeStyle = '#000'; ctx.lineWidth = 1; ctx.setLineDash([]);
      ctx.strokeRect(Math.round(a.left) + 0.5, Math.round(a.top) + 0.5,
                     Math.round(a.right) - Math.round(a.left) - 1, Math.round(a.bottom) - Math.round(a.top) - 1);
      // legend without box (bty = "n")
      const L = p.legend;
      ctx.font = 'normal ' + LEGEND_SIZE + 'px ' + FAM;
      ctx.fillStyle = '#000'; ctx.textAlign = 'left'; ctx.textBaseline = 'middle';
      for (let k = 0; k < 3; k++) {
        const ds = chart.data.datasets[k];
        const yy = Math.round(L.ys[k]) + 0.5;
        ctx.lineWidth = 1.2;
        ctx.setLineDash(ds.borderDash || []);
        ctx.beginPath(); ctx.moveTo(L.x1, yy); ctx.lineTo(L.x2, yy); ctx.stroke();
        ctx.setLineDash([]);
        ctx.fillText(ds.label, L.tx, L.ys[k] + 0.5);
      }
      ctx.restore();
    }
  };

  const tickFont = {family: FAM, size: TICK_SIZE, lineHeight: LH};
  const yTickFont = {family: FAM, size: YTICK_SIZE, lineHeight: LH};
  const axFont = {family: FAM, size: AXIS_SIZE, lineHeight: LH};
  const yAxFont = {family: FAM, size: YAXIS_SIZE, lineHeight: LH};

  return new Chart(cv, {
    type: 'line',
    data: {datasets},
    plugins: [framePlugin],
    options: {
      responsive: false, animation: false, devicePixelRatio: 1,
      events: [],
      layout: {autoPadding: false, padding: {left: 0, top: 0, right: p.w - p.box.r, bottom: 0}},
      plugins: {
        legend: {display: false}, tooltip: {enabled: false},
        title: {display: true, text: p.title, fullSize: false, color: '#000',
                font: {family: FAM, size: TITLE_SIZE, weight: 'bold', lineHeight: LH},
                padding: {top: titlePadTop, bottom: titlePadBottom}}
      },
      scales: {
        x: {
          type: 'linear', position: 'bottom', min: -79, max: 2080, bounds: 'data',
          afterBuildTicks: s => { s.ticks = xTicks.map(v => ({value: v})); },
          afterFit: s => { s.height = p.h - p.box.b; s.paddingLeft = 0; s.paddingRight = 0; },
          ticks: {autoSkip: false, maxRotation: 0, minRotation: 0, color: '#000', font: tickFont,
                  padding: xTickPad, callback: (v, i) => xTickLabels[i]},
          grid: {display: true, drawOnChartArea: false, drawTicks: true, tickLength: TICK_LEN, color: '#000', lineWidth: 1},
          border: {display: false},
          title: {display: true, text: xAxisTitle, color: '#000', font: axFont, padding: {top: 0, bottom: xTitlePadBottom}}
        },
        y: {
          type: 'linear', position: 'left', min: p.ymin, max: p.ymax, bounds: 'data',
          afterBuildTicks: s => { s.ticks = p.yTicks.map(v => ({value: v})); },
          afterFit: s => { s.width = p.box.l; s.paddingTop = 0; s.paddingBottom = 0; },
          ticks: {autoSkip: false, minRotation: 90, maxRotation: 90, crossAlign: 'center', color: '#000',
                  font: yTickFont, padding: yTickPad, callback: (v, i) => p.yLabels[i]},
          grid: {display: true, drawOnChartArea: false, drawTicks: true, tickLength: TICK_LEN, color: '#000', lineWidth: 1},
          border: {display: false},
          title: {display: true, text: yAxisTitle, color: '#000', font: yAxFont, padding: {top: yTitlePadTop, bottom: 0}}
        }
      }
    }
  });
}

panels.forEach(makePanel);
</script>
</body>
</html>
